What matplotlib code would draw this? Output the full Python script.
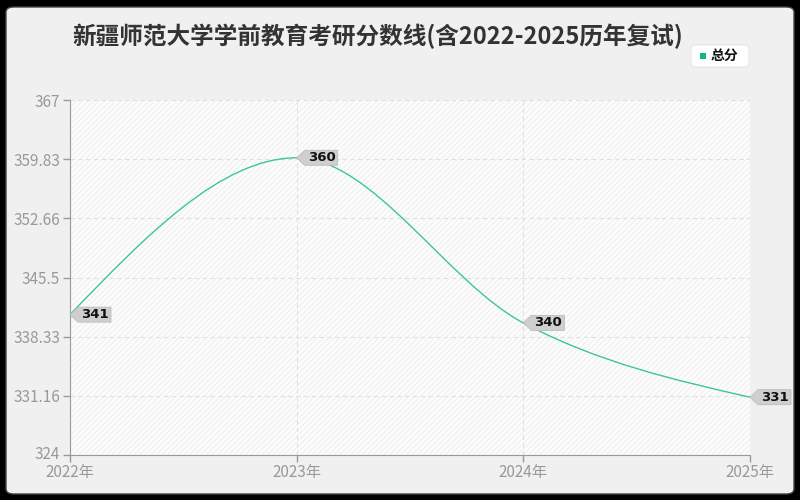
import matplotlib
matplotlib.use("Agg")
import matplotlib.pyplot as plt
from matplotlib.patches import FancyBboxPatch, PathPatch, Rectangle, Polygon
from matplotlib.path import Path
from matplotlib.transforms import IdentityTransform, ScaledTranslation
import numpy as np

plt.rcParams['font.family'] = ['Noto Sans CJK SC', 'DejaVu Sans']
plt.rcParams['hatch.color'] = "#efefef"
plt.rcParams['hatch.linewidth'] = 0.6

title = "新疆师范大学学前教育考研分数线(含2022-2025历年复试)"
years = ["2022年", "2023年", "2024年", "2025年"]
scores = [341, 360, 340, 331]
series_name = "总分"
yticks = [324, 331.16, 338.33, 345.5, 352.66, 359.83, 367]
ymin, ymax = 324, 367

line_color = "#3cc793"

fig = plt.figure(figsize=(8, 5), dpi=100)
fig.patch.set_facecolor("black")
panel = FancyBboxPatch((6/800, 6/500), 788/800, 487/500,
                       boxstyle="round,pad=0,rounding_size=0.01",
                       transform=fig.transFigure, facecolor="#f0f0f0",
                       edgecolor="#444444", linewidth=1.0, zorder=-10)
fig.patches.append(panel)

ax = fig.add_axes([70/800, 45/500, 680/800, 355/500])
ax.set_zorder(1)
ax.set_facecolor("#fcfcfc")
ax.add_patch(Rectangle((0, 0), 1, 1, transform=ax.transAxes, facecolor="none",
                       edgecolor="#ececec", hatch="//////", linewidth=0, zorder=0))

x = np.arange(len(scores))
ax.set_xlim(0, len(scores) - 1)
ax.set_ylim(ymin, ymax)

# monotone cubic (d3 curveMonotoneX style) drawn as Bezier path
y = np.array(scores, dtype=float)
s = np.diff(y)
t = np.zeros(len(y))
for i in range(1, len(y) - 1):
    if s[i-1] * s[i] <= 0:
        t[i] = 0
    else:
        p = (s[i-1] + s[i]) / 2
        t[i] = (np.sign(s[i-1]) + np.sign(s[i])) * min(abs(s[i-1]), abs(s[i]), 0.5 * abs(p))
t[0] = (3 * s[0] - t[1]) / 2
t[-1] = (3 * s[-1] - t[-2]) / 2
verts = [(x[0], y[0])]
codes = [Path.MOVETO]
for i in range(len(y) - 1):
    verts += [(x[i] + 1/3, y[i] + t[i]/3), (x[i+1] - 1/3, y[i+1] - t[i+1]/3), (x[i+1], y[i+1])]
    codes += [Path.CURVE4] * 3
ax.add_patch(PathPatch(Path(verts, codes), facecolor="none", edgecolor=line_color,
                       linewidth=1.0, zorder=3, clip_on=False))

# value tags: grey box with a left-pointing tip at the data point
for xi, yi in zip(x, scores):
    tr = IdentityTransform() + ScaledTranslation(xi, yi, ax.transData)
    tag = Polygon([(0, 0), (8, 7.5), (41, 7.5), (41, -7.5), (8, -7.5)], closed=True,
                  transform=tr, facecolor="#cfcfcf", edgecolor="#bdbdbd", linewidth=0.6,
                  zorder=5, clip_on=False)
    ax.add_patch(tag)
    ax.annotate(str(yi), (xi, yi), xytext=(11, 0), textcoords="offset pixels",
                ha="left", va="center", fontsize=9.5, fontweight="bold", color="#111111",
                family=['DejaVu Sans'], zorder=6, annotation_clip=False)

ax.set_xticks(x)
ax.set_xticklabels(years)
ax.set_yticks(yticks)
ax.set_yticklabels([f"{v:g}" for v in yticks])
ax.grid(True, color="#e0e0e0", linestyle=(0, (4, 3)), linewidth=0.8)
ax.set_axisbelow(True)
for sp in ["top", "right"]:
    ax.spines[sp].set_visible(False)
for sp in ["left", "bottom"]:
    ax.spines[sp].set_color("#999999")
ax.tick_params(axis="both", colors="#999999", labelcolor="#999999", labelsize=11, length=5, width=1)
ax.tick_params(axis="x", pad=1.5)
ax.tick_params(axis="y", pad=2)
# lift the lowest y label a few pixels so it clears the first x label
lab0 = ax.get_yticklabels()[0]
lab0.set_transform(lab0.get_transform() + ScaledTranslation(0, 2.5/100, fig.dpi_scale_trans))

fig.text(378/800, 1 - 36/500, title, ha="center", va="center", fontsize=17,
         fontweight="bold", color="#333333")

leg_box = FancyBboxPatch((691/800, 1 - 67/500), 58/800, 22/500,
                         boxstyle="round,pad=0,rounding_size=0.006",
                         transform=fig.transFigure, facecolor="white", edgecolor="#e6e6e6",
                         linewidth=0.8, zorder=2)
fig.patches.append(leg_box)
fig.patches.append(Rectangle((700/800, 1 - 59/500), 6/800, 6/500, transform=fig.transFigure,
                             facecolor="#10b981", edgecolor="none", zorder=3))
fig.text(711/800, 1 - 55.5/500, series_name, ha="left", va="center", fontsize=10,
         fontweight="bold", color="#111111")

fig.savefig("out.png", dpi=100, facecolor=fig.get_facecolor())
